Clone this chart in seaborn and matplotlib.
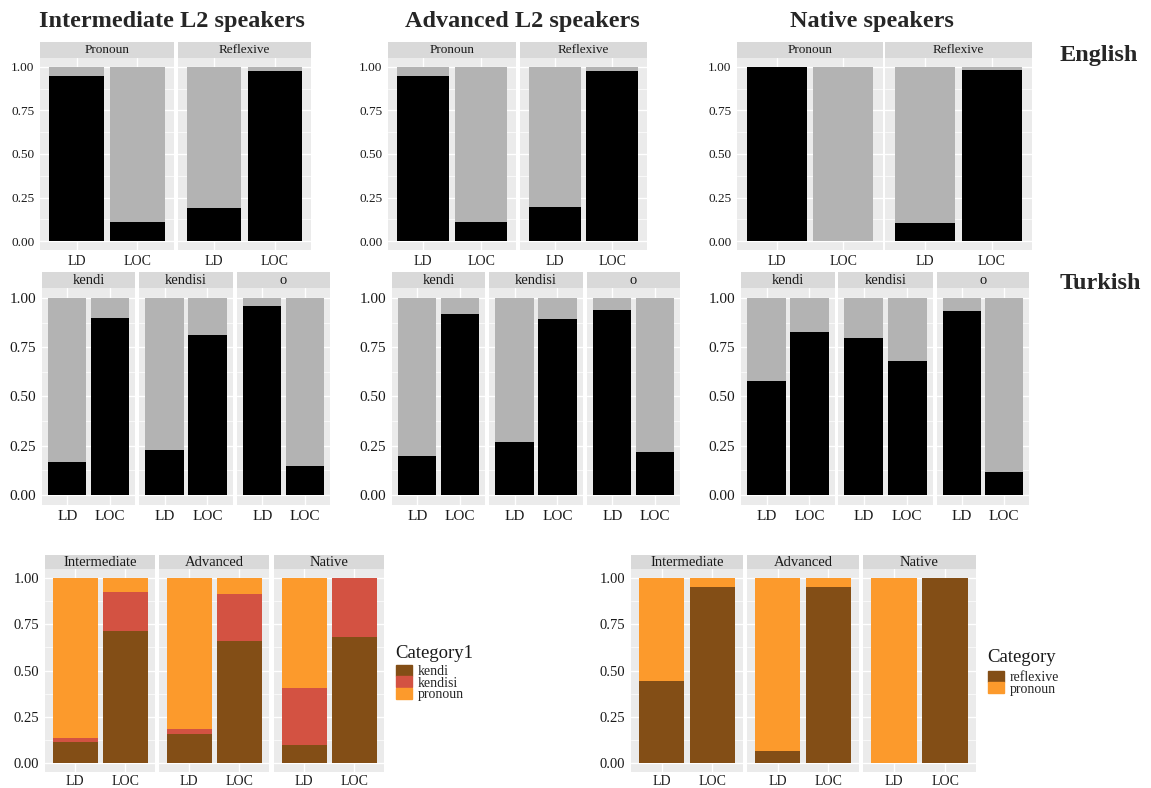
import numpy as np
import matplotlib
matplotlib.use("Agg")
import matplotlib.pyplot as plt
from matplotlib.patches import Patch
import seaborn as sns

# ---------------- data ----------------
cases = ["LD", "LOC"]
groups = ["Intermediate", "Advanced", "Native"]
eng_facets = ["Pronoun", "Reflexive"]
tur_facets = ["kendi", "kendisi", "o"]

# English: proportion of black (rest grey) per facet, [LD, LOC]
eng_int_pronoun = [0.946, 0.109]
eng_int_reflexive = [0.191, 0.975]
eng_adv_pronoun = [0.947, 0.109]
eng_adv_reflexive = [0.194, 0.975]
eng_nat_pronoun = [1.0, 0.0]
eng_nat_reflexive = [0.105, 0.981]

# Turkish: proportion of black per facet, [LD, LOC]
tur_int_kendi = [0.169, 0.898]
tur_int_kendisi = [0.230, 0.813]
tur_int_o = [0.959, 0.149]
tur_adv_kendi = [0.200, 0.920]
tur_adv_kendisi = [0.268, 0.895]
tur_adv_o = [0.937, 0.217]
tur_nat_kendi = [0.578, 0.827]
tur_nat_kendisi = [0.797, 0.678]
tur_nat_o = [0.934, 0.119]

# Category1 (kendi / kendisi / pronoun), [LD, LOC]
c1_int_kendi = [0.110, 0.715]
c1_int_kendisi = [0.023, 0.210]
c1_int_pronoun = [0.867, 0.075]
c1_adv_kendi = [0.155, 0.658]
c1_adv_kendisi = [0.030, 0.258]
c1_adv_pronoun = [0.815, 0.084]
c1_nat_kendi = [0.096, 0.680]
c1_nat_kendisi = [0.311, 0.320]
c1_nat_pronoun = [0.593, 0.000]

# Category (reflexive / pronoun), [LD, LOC]
c2_int_reflexive = [0.443, 0.955]
c2_int_pronoun = [0.557, 0.045]
c2_adv_reflexive = [0.062, 0.955]
c2_adv_pronoun = [0.938, 0.045]
c2_nat_reflexive = [0.000, 1.000]
c2_nat_pronoun = [1.000, 0.000]

# ---------------- style ----------------
BLACK = "#000000"
GREY = "#B3B3B3"
BROWN = "#834E16"
RED = "#D35242"
ORANGE = "#FC9A2C"
PANEL_BG = "#EBEBEB"
STRIP_BG = "#D9D9D9"

sns.set_style("white")
plt.rcParams["font.family"] = ["Liberation Serif", "DejaVu Serif"]

W, H = 1151, 788
fig = plt.figure(figsize=(W / 100, H / 100), dpi=100)


def add_px(x0, y0, x1, y1):
    return fig.add_axes([x0 / W, 1 - y1 / H, (x1 - x0) / W, (y1 - y0) / H])


def draw_panel(box, strip_y0, layers, label, show_y, yfs, xfs, sfs, xpad=1.0):
    x0, y0, x1, y1 = box
    ax = add_px(x0, y0, x1, y1)
    ax.set_facecolor(PANEL_BG)
    ax.set_axisbelow(True)
    cum = np.zeros(len(cases))
    stacks = []
    for vals, col in layers:
        cum = cum + np.asarray(vals, dtype=float)
        stacks.append((cum.copy(), col))
    for vals, col in reversed(stacks):
        sns.barplot(x=cases, y=vals, order=cases, color=col, saturation=1,
                    width=0.9, ax=ax, edgecolor="none", linewidth=0, zorder=3)
    ax.set_xlim(-0.6, 1.6)
    ax.set_ylim(-0.05, 1.05)
    ax.set_yticks([0, 0.25, 0.5, 0.75, 1.0])
    ax.set_yticks([0.125, 0.375, 0.625, 0.875], minor=True)
    ax.set_xticks([0, 1])
    ax.set_xticklabels(cases)
    ax.grid(True, which="major", color="white", linewidth=1.0, zorder=0)
    ax.grid(True, which="minor", axis="y", color="white", linewidth=0.5, zorder=0)
    ax.set_xlabel("")
    ax.set_ylabel("")
    for s in ax.spines.values():
        s.set_visible(False)
    ax.tick_params(axis="x", which="major", length=3, width=0.8, color="#333333",
                   labelsize=xfs, labelcolor="#1a1a1a", pad=xpad)
    ax.tick_params(axis="y", which="minor", length=0)
    if show_y:
        ax.set_yticklabels(["0.00", "0.25", "0.50", "0.75", "1.00"])
        ax.tick_params(axis="y", which="major", length=3, width=0.8, color="#333333",
                       labelsize=yfs, labelcolor="#1a1a1a", pad=1.0)
    else:
        ax.tick_params(axis="y", which="major", length=0, labelleft=False)
    sax = add_px(x0, strip_y0, x1, y0)
    sax.set_facecolor(STRIP_BG)
    sax.set_xticks([])
    sax.set_yticks([])
    for s in sax.spines.values():
        s.set_visible(False)
    sax.text(0.5, 0.5, label, ha="center", va="center", fontsize=sfs,
             color="#1a1a1a", transform=sax.transAxes)
    return ax


# ---------------- Row 1: English ----------------
r1 = (42, 58, 250)
eng_boxes = [
    [(40, 174), (178, 311)],
    [(388, 516), (520, 647)],
    [(737, 883), (885, 1032)],
]
eng_data = [
    [eng_int_pronoun, eng_int_reflexive],
    [eng_adv_pronoun, eng_adv_reflexive],
    [eng_nat_pronoun, eng_nat_reflexive],
]
for boxes, data in zip(eng_boxes, eng_data):
    for j, ((xa, xb), vals) in enumerate(zip(boxes, data)):
        rest = [1 - v for v in vals]
        draw_panel((xa, r1[1], xb, r1[2]), r1[0], [(vals, BLACK), (rest, GREY)],
                   eng_facets[j], j == 0, 9.5, 10, 9.5, xpad=0.5)

# ---------------- Row 2: Turkish ----------------
r2 = (272, 288, 505)
tur_boxes = [
    [(42, 135), (139, 233), (237, 330)],
    [(392, 485), (489, 583), (587, 680)],
    [(741, 835), (838, 933), (937, 1029)],
]
tur_data = [
    [tur_int_kendi, tur_int_kendisi, tur_int_o],
    [tur_adv_kendi, tur_adv_kendisi, tur_adv_o],
    [tur_nat_kendi, tur_nat_kendisi, tur_nat_o],
]
for boxes, data in zip(tur_boxes, tur_data):
    for j, ((xa, xb), vals) in enumerate(zip(boxes, data)):
        rest = [1 - v for v in vals]
        draw_panel((xa, r2[1], xb, r2[2]), r2[0], [(vals, BLACK), (rest, GREY)],
                   tur_facets[j], j == 0, 11, 11, 10.5, xpad=0.5)

# ---------------- Row 3 ----------------
r3 = (555, 569, 772)
left_boxes = [(45, 155), (159, 269), (274, 384)]
c1_data = [
    (c1_int_kendi, c1_int_kendisi, c1_int_pronoun),
    (c1_adv_kendi, c1_adv_kendisi, c1_adv_pronoun),
    (c1_nat_kendi, c1_nat_kendisi, c1_nat_pronoun),
]
for j, ((xa, xb), (k, ks, p)) in enumerate(zip(left_boxes, c1_data)):
    draw_panel((xa, r3[1], xb, r3[2]), r3[0], [(k, BROWN), (ks, RED), (p, ORANGE)],
               groups[j], j == 0, 10.5, 10, 10.5, xpad=-0.5)

right_boxes = [(631, 743), (747, 859), (863, 976)]
c2_data = [
    (c2_int_reflexive, c2_int_pronoun),
    (c2_adv_reflexive, c2_adv_pronoun),
    (c2_nat_reflexive, c2_nat_pronoun),
]
for j, ((xa, xb), (rf, p)) in enumerate(zip(right_boxes, c2_data)):
    draw_panel((xa, r3[1], xb, r3[2]), r3[0], [(rf, BROWN), (p, ORANGE)],
               groups[j], j == 0, 10.5, 10, 10.5, xpad=-0.5)

# ---------------- legends ----------------
fig.text(395 / W, 1 - 653 / H, "Category1", ha="left", va="center", fontsize=13.5,
         color="#1a1a1a")
fig.legend(handles=[Patch(color=BROWN, label="kendi"),
                    Patch(color=RED, label="kendisi"),
                    Patch(color=ORANGE, label="pronoun")],
           loc="upper left", bbox_to_anchor=(396 / W, 1 - 665 / H), frameon=False,
           fontsize=10, labelspacing=-0.12, handlelength=1.15, handleheight=0.8,
           handletextpad=0.4, borderpad=0, borderaxespad=0)
fig.text(987 / W, 1 - 658 / H, "Category", ha="left", va="center", fontsize=13.5,
         color="#1a1a1a")
fig.legend(handles=[Patch(color=BROWN, label="reflexive"),
                    Patch(color=ORANGE, label="pronoun")],
           loc="upper left", bbox_to_anchor=(988 / W, 1 - 671 / H), frameon=False,
           fontsize=10, labelspacing=-0.12, handlelength=1.15, handleheight=0.8,
           handletextpad=0.4, borderpad=0, borderaxespad=0)

# ---------------- titles ----------------
fig.text(172 / W, 1 - 21 / H, "Intermediate L2 speakers", ha="center", va="center",
         fontsize=17.5, fontweight="bold")
fig.text(522 / W, 1 - 21 / H, "Advanced L2 speakers", ha="center", va="center",
         fontsize=17.5, fontweight="bold")
fig.text(872 / W, 1 - 21 / H, "Native speakers", ha="center", va="center",
         fontsize=17.5, fontweight="bold")
fig.text(1060 / W, 1 - 55 / H, "English", ha="left", va="center",
         fontsize=17.5, fontweight="bold")
fig.text(1060 / W, 1 - 283 / H, "Turkish", ha="left", va="center",
         fontsize=17.5, fontweight="bold")

fig.savefig("out.png", dpi=100, facecolor="white")
